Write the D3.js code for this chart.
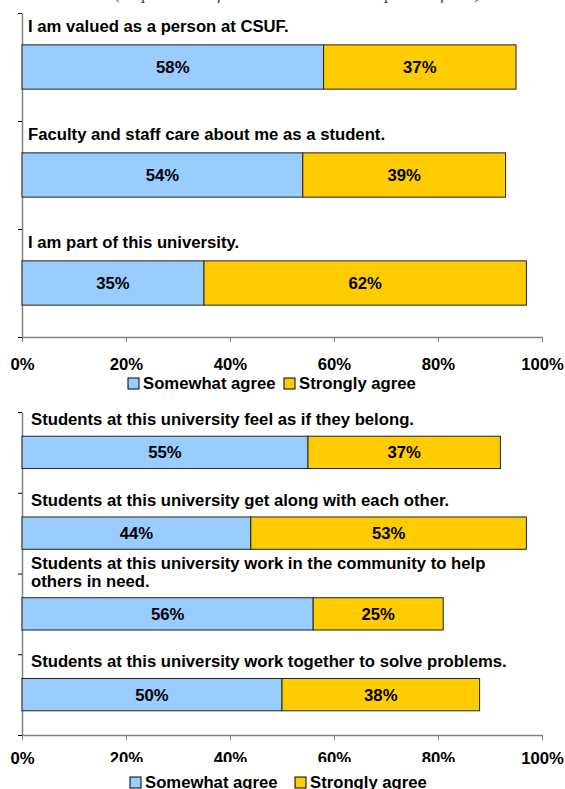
<!DOCTYPE html>
<html>
<head>
<meta charset="utf-8">
<script src="https://cdn.jsdelivr.net/npm/d3@7"></script>
<style>
  body { margin: 0; background: #fff; }
  svg { display: block; font-family: "Liberation Sans", Arial, sans-serif; }
</style>
</head>
<body>
<svg id="chart" width="565" height="789"></svg>
<script>
// data
const seriesNames = ["Somewhat agree", "Strongly agree"];
const seriesColors = ["#99ccff", "#ffcc00"];
const tickValues = [0, 20, 40, 60, 80, 100];

const questions1 = [
  ["I am valued as a person at CSUF."],
  ["Faculty and staff care about me as a student."],
  ["I am part of this university."]
];
const somewhat1 = [58, 54, 35];
const strongly1 = [37, 39, 62];

const questions2 = [
  ["Students at this university feel as if they belong."],
  ["Students at this university get along with each other."],
  ["Students at this university work in the community to help", "others in need."],
  ["Students at this university work together to solve problems."]
];
const somewhat2 = [55, 44, 56, 50];
const strongly2 = [37, 53, 25, 38];

const fontSize = "16.7px";
const svg = d3.select("#chart");

// caption line above, mostly cut off at the top of the page
svg.append("text")
  .attr("x", 115).attr("y", -1.5)
  .attr("textLength", 366).attr("lengthAdjust", "spacing")
  .attr("fill", "#333")
  .style("font-family", "'Liberation Serif', 'Times New Roman', serif")
  .style("font-style", "italic")
  .style("font-size", "17px")
  .text("(Response totals for both items are shown in percent of total)");

const x = d3.scaleLinear().domain([0, 100]).range([22, 542]);

function drawPanel(opt) {
  const g = svg.append("g");
  const n = opt.questions.length;
  const band = d3.scaleBand().domain(d3.range(n)).range([opt.top, opt.bottom]);
  const barH = band.bandwidth() * opt.barRatio;

  // left axis with ticks on the band boundaries
  const yEdge = d3.scaleLinear().domain([0, n]).range([opt.top, opt.bottom]);
  const yAxis = g.append("g")
    .attr("transform", `translate(${x(0)},0)`)
    .call(d3.axisLeft(yEdge).tickValues(d3.range(n + 1)).tickFormat("").tickSize(4).tickSizeOuter(0));
  yAxis.select(".domain").attr("stroke", "#808080").attr("stroke-width", 1.5);
  yAxis.selectAll(".tick line").attr("stroke", "#000");

  // bottom axis
  const xAxis = g.append("g")
    .attr("transform", `translate(0,${opt.bottom})`)
    .call(d3.axisBottom(x).tickValues(tickValues).tickFormat(d => d + "%").tickSize(5).tickSizeOuter(0));
  xAxis.select(".domain").attr("stroke", "#808080").attr("stroke-width", 1.5);
  xAxis.selectAll(".tick line").attr("stroke", "#808080");
  xAxis.selectAll(".tick text")
    .attr("y", opt.tickTextY).attr("dy", 0)
    .style("font-size", fontSize).style("font-weight", "bold").attr("fill", "#000");

  const rows = opt.questions.map((q, i) => ({
    q: q, i: i,
    segs: [
      { k: 0, x0: 0, x1: opt.somewhat[i], v: opt.somewhat[i] },
      { k: 1, x0: opt.somewhat[i], x1: opt.somewhat[i] + opt.strongly[i], v: opt.strongly[i] }
    ]
  }));

  const row = g.selectAll(".row").data(rows).enter().append("g").attr("class", "row");

  row.each(function (d) {
    const r = d3.select(this);
    const yTop = band(d.i) + (band.bandwidth() - barH) / 2;

    r.selectAll("rect").data(d.segs).enter().append("rect")
      .attr("x", s => x(s.x0))
      .attr("y", yTop)
      .attr("width", s => x(s.x1) - x(s.x0))
      .attr("height", barH)
      .attr("fill", s => seriesColors[s.k])
      .attr("stroke", "#222")
      .attr("stroke-width", 1);

    r.selectAll(".val").data(d.segs).enter().append("text")
      .attr("class", "val")
      .attr("x", s => (x(s.x0) + x(s.x1)) / 2)
      .attr("y", yTop + barH / 2 + 6)
      .attr("text-anchor", "middle")
      .style("font-size", fontSize).style("font-weight", "bold")
      .text(s => s.v + "%");

    const lines = d.q.length;
    r.selectAll(".lbl").data(d.q).enter().append("text")
      .attr("class", "lbl")
      .attr("x", opt.labelX)
      .attr("y", (t, j) => yTop - opt.labelGap - (lines - 1 - j) * 18)
      .style("font-size", fontSize).style("font-weight", "bold")
      .text(t => t);
  });

  // legend
  const leg = g.append("g");
  leg.append("rect")
    .attr("x", opt.legendBg[0]).attr("y", opt.legendBg[1])
    .attr("width", opt.legendBg[2]).attr("height", opt.legendBg[3])
    .attr("fill", "#fff");
  seriesNames.forEach((name, k) => {
    leg.append("rect")
      .attr("x", opt.legendX[k]).attr("y", opt.legendY - 11)
      .attr("width", 11).attr("height", 11)
      .attr("fill", seriesColors[k]).attr("stroke", "#000");
    leg.append("text")
      .attr("x", opt.legendX[k] + 15).attr("y", opt.legendY)
      .style("font-size", fontSize).style("font-weight", "bold")
      .text(name);
  });
}

drawPanel({
  questions: questions1, somewhat: somewhat1, strongly: strongly1,
  top: 13, bottom: 337, barRatio: 0.41,
  labelX: 28, labelGap: 13, tickTextY: 33,
  legendX: [128, 284], legendY: 389, legendBg: [110, 374, 0, 0]
});

drawPanel({
  questions: questions2, somewhat: somewhat2, strongly: strongly2,
  top: 412, bottom: 735, barRatio: 0.4,
  labelX: 31, labelGap: 11, tickTextY: 29,
  legendX: [130, 295], legendY: 788, legendBg: [104, 762, 362, 30]
});
</script>
</body>
</html>
